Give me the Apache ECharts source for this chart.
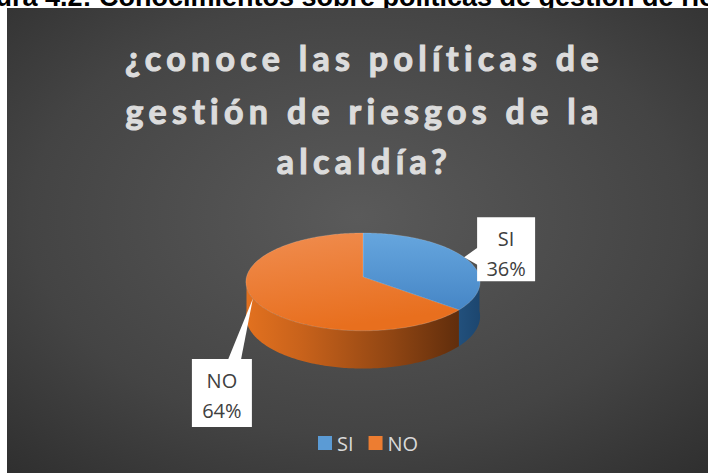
<!DOCTYPE html>
<html><head><meta charset="utf-8">
<script src="https://cdn.jsdelivr.net/npm/echarts@6/dist/echarts.min.js"></script>
<style>
html,body{margin:0;padding:0;background:#ffffff;}
#c{width:708px;height:473px;}
#c text[style*="Lato"]{letter-spacing:5.3px;}
</style></head><body><div id="c"></div>
<script>
// ---- data ----
const caption = 'Figura 4.2: Conocimientos sobre políticas de gestión de riesgos';
const titleLines = ['¿conoce las políticas de', 'gestión de riesgos de la', 'alcaldía?'];
const categories = ['SI', 'NO'];
const values = [36, 64];

// ---- styles / layout ----
const legendColors = ['#5b9bd5', '#ed7d31'];
const PIE = {cx: 363, cy: 277, rx: 116.5, ry: 48.4, persp: 0.1, depth: 34};
const topFill = [
  {type:'linear', x:0, y:0, x2:0, y2:1, colorStops:[{offset:0,color:'#66a6de'},{offset:1,color:'#4686c6'}]},
  {type:'linear', x:0, y:0, x2:0.3, y2:1, colorStops:[{offset:0,color:'#f08d50'},{offset:1,color:'#e86f1e'}]}
];
const sideFill = [
  {type:'linear', x:0, y:0, x2:1, y2:0, colorStops:[{offset:0,color:'#22507c'},{offset:1,color:'#1c466f'}]},
  {type:'linear', global:true, x:PIE.cx - PIE.rx, y:0, x2:PIE.cx + PIE.rx*0.9, y2:0,
   colorStops:[{offset:0,color:'#e2711f'},{offset:0.25,color:'#c8621b'},{offset:0.65,color:'#914613'},{offset:1,color:'#5a2a0b'}]}
];
const labelStyle = [
  {dx: 13, dy: -40, w: 58, h: 64, ptr: 'left', p0: 30, p1: 48},
  {dx: -61, dy: 60.5, w: 60, h: 68, ptr: 'top', p0: 36, p1: 49}
];

const total = values.reduce((a, b) => a + b, 0);
function proj(t, r) {
  const k = 1 / (1 + PIE.persp * Math.cos(t));
  return [PIE.cx + PIE.rx * r * Math.sin(t) * k, PIE.cy - PIE.ry * r * Math.cos(t) * k, k];
}
function arcPts(a, b) {
  const n = Math.max(2, Math.ceil((b - a) / (Math.PI / 180)));
  const pts = [];
  for (let j = 0; j <= n; j++) pts.push(proj(a + (b - a) * j / n, 1));
  return pts;
}
function renderSlice(i) {
  let before = 0;
  for (let j = 0; j < i; j++) before += values[j];
  const a = before / total * 2 * Math.PI;
  const b = (before + values[i]) / total * 2 * Math.PI;
  const children = [];
  const s = Math.max(a, Math.PI / 2), e = Math.min(b, 1.5 * Math.PI);
  if (e > s) {
    const top = arcPts(s, e);
    const pts = top.map(p => [p[0], p[1]]).concat(top.slice().reverse().map(p => [p[0], p[1] + PIE.depth * p[2]]));
    children.push({type: 'polygon', shape: {points: pts}, style: {fill: sideFill[i]}});
  }
  const rim = arcPts(a, b);
  children.push({type: 'polygon', shape: {points: [[PIE.cx, PIE.cy]].concat(rim.map(p => [p[0], p[1]]))},
    style: {fill: topFill[i], stroke: 'rgba(255,255,255,0.25)', lineWidth: 0.6}});
  // label
  const ls = labelStyle[i];
  const tip = proj((a + b) / 2, 1);
  const bx = tip[0] + ls.dx, by = tip[1] + ls.dy;
  let ptr;
  if (ls.ptr === 'left') ptr = [[bx + 1, by + ls.p0], [bx + 1, by + ls.p1], [tip[0], tip[1]]];
  else ptr = [[bx + ls.p0, by + 1], [bx + ls.p1, by + 1], [tip[0], tip[1]]];
  children.push({type: 'polygon', z2: 10, shape: {points: ptr}, style: {fill: '#ffffff'}});
  children.push({type: 'rect', z2: 10, shape: {x: bx, y: by, width: ls.w, height: ls.h}, style: {fill: '#ffffff'}});
  const pct = Math.round(values[i] / total * 100) + '%';
  children.push({type: 'text', z2: 11, style: {text: categories[i], x: bx + ls.w / 2, y: by + 21.5,
    fill: '#404040', fontSize: 20, fontFamily: 'Open Sans', align: 'center', verticalAlign: 'middle'}});
  children.push({type: 'text', z2: 11, style: {text: pct, x: bx + ls.w / 2, y: by + 51,
    fill: '#404040', fontSize: 20, fontFamily: 'Open Sans', align: 'center', verticalAlign: 'middle'}});
  return {type: 'group', children: children};
}

const chart = echarts.init(document.getElementById('c'), null, {renderer: 'svg'});
const titleY = [57.5, 110, 160];
const option = {
  animation: false,
  backgroundColor: '#ffffff',
  legend: {
    data: categories, left: 313, top: 428, itemWidth: 14, itemHeight: 14, itemGap: 15, icon: 'rect',
    selectedMode: false,
    textStyle: {color: '#d9d9d9', fontSize: 20, fontFamily: 'Open Sans'}
  },
  graphic: [
    {type: 'text', z: 0, style: {text: caption, x: -45, y: -3.4, fill: '#000000', fontSize: 27, fontWeight: 'bold',
      fontFamily: 'Liberation Sans', align: 'left', verticalAlign: 'middle'}},
    {type: 'rect', z: 1, shape: {x: 7, y: 8, width: 701, height: 465}, style: {fill: {
      type: 'radial', x: 0.5, y: 0.45, r: 0.85,
      colorStops: [{offset: 0, color: '#5a5a5a'}, {offset: 0.55, color: '#444444'}, {offset: 1, color: '#272727'}]}}}
  ].concat(titleLines.map((t, i) => ({
    type: 'text', z: 5, style: {text: t, x: 364.5, y: titleY[i], fill: '#dcdcdc', fontSize: 34, fontWeight: 'bold',
      fontFamily: 'Lato', align: 'center', verticalAlign: 'middle',
      stroke: '#dcdcdc', lineWidth: 1.1,
      shadowBlur: 5, shadowColor: 'rgba(0,0,0,0.7)', shadowOffsetX: 1, shadowOffsetY: 2}
  }))),
  series: categories.map((name, i) => ({
    type: 'custom', name: name, coordinateSystem: 'none', z: 3,
    itemStyle: {color: legendColors[i]},
    data: [[values[i]]],
    renderItem: function () { return renderSlice(i); }
  }))
};
chart.setOption(option);
</script></body></html>
